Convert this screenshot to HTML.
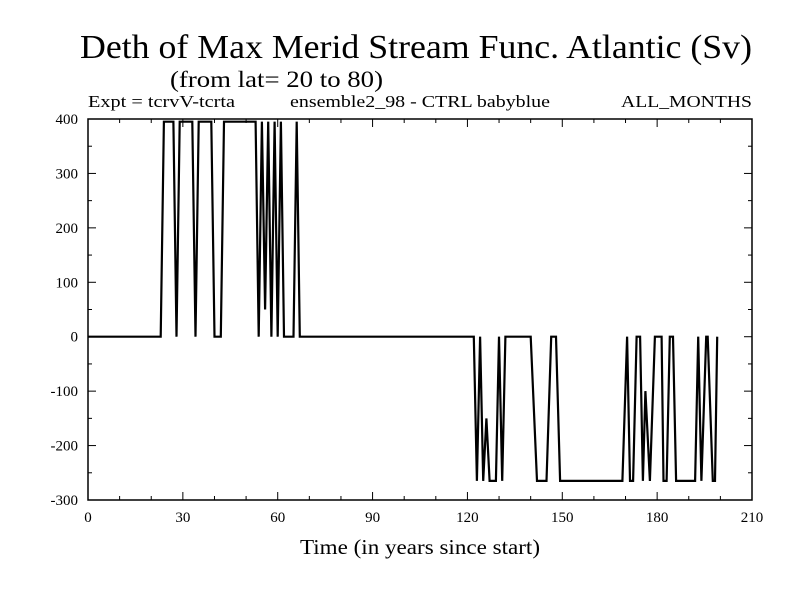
<!DOCTYPE html>
<html><head><meta charset="utf-8"><style>
body{margin:0;background:#fff}
svg text{font-family:"Liberation Serif",serif;fill:#000}
</style></head><body>
<svg width="800" height="600" xmlns="http://www.w3.org/2000/svg">
<rect width="800" height="600" fill="#fff"/>
<text x="80" y="58" font-size="34" textLength="672" lengthAdjust="spacingAndGlyphs">Deth of Max Merid Stream Func. Atlantic (Sv)</text>
<text x="170" y="87" font-size="23" textLength="213" lengthAdjust="spacingAndGlyphs">(from lat= 20 to 80)</text>
<text x="88" y="107" font-size="17" textLength="147" lengthAdjust="spacingAndGlyphs">Expt = tcrvV-tcrta</text>
<text x="290" y="107" font-size="17" textLength="260" lengthAdjust="spacingAndGlyphs">ensemble2_98 - CTRL babyblue</text>
<text x="621" y="107" font-size="17" textLength="131" lengthAdjust="spacingAndGlyphs">ALL_MONTHS</text>
<g id="axes"></g>
<g id="series"></g>
<text x="300" y="554" font-size="21" textLength="240" lengthAdjust="spacingAndGlyphs">Time (in years since start)</text>
</svg>
<script>
const years = [0,23,24,27,28,29,33,34,35,39,40,42,43,53,54,55,56,57,58,59,60,61,62,65,66,67,122,123,124,125,126,127,129,130,131,132,140,142,145,146.5,148,149.3,169,170.5,171.4,172.4,173.5,174.6,175.5,176.3,177.7,179.3,181.4,182,183,184,185,186,192,193,194,195.5,196,197.6,198.3,199];
const values = [0,0,395,395,0,395,395,0,395,395,0,0,395,395,0,395,50,395,0,395,0,395,0,0,395,0,0,-265,0,-265,-150,-265,-265,0,-265,0,0,-265,-265,0,0,-265,-265,0,-265,-265,0,0,-265,-100,-265,0,0,-265,-265,0,0,-265,-265,0,-265,0,0,-265,-265,0];
const xTicks = [0,30,60,90,120,150,180,210];
const yTicks = [400,300,200,100,0,-100,-200,-300];
const L=88,R=752,T=119,B=500;
const xs=v=>L+(v-0)/(210-0)*(R-L);
const ys=v=>B-(v+300)/700*(B-T);
const NS="http://www.w3.org/2000/svg";
const axes=document.getElementById('axes');
function mk(tag,attrs,parent){const e=document.createElementNS(NS,tag);for(const k in attrs)e.setAttribute(k,attrs[k]);parent.appendChild(e);return e;}
const frame=mk('rect',{x:L,y:T,width:R-L,height:B-T,fill:'none',stroke:'#000','stroke-width':1.5},axes);


for(let v=0;v<=210;v+=10){
  const len=(v%30===0)?8:4;
  const x=xs(v);
  const t1=mk('line',{x1:x,x2:x,y1:B,y2:B-len,stroke:'#000'},axes);
  
  
  const t2=mk('line',{x1:x,x2:x,y1:T,y2:T+len,stroke:'#000'},axes);
  
  
}
for(let v=-300;v<=400;v+=50){
  const len=(v%100===0)?8:4;
  const y=ys(v);
  const t1=mk('line',{x1:L,x2:L+len,y1:y,y2:y,stroke:'#000'},axes);
  
  
  const t2=mk('line',{x1:R,x2:R-len,y1:y,y2:y,stroke:'#000'},axes);
  
  
}
xTicks.forEach(v=>{
  const t=mk('text',{x:xs(v),y:B+22,'font-size':15,'text-anchor':'middle'},axes);
  t.textContent=v;
  
  
});
yTicks.forEach(v=>{
  const t=mk('text',{x:L-10,y:ys(v)+5,'font-size':15,'text-anchor':'end'},axes);
  t.textContent=v;
  
  
});
const pts=years.map((y,i)=>xs(y).toFixed(1)+','+ys(values[i]).toFixed(1)).join(' ');
const line=mk('polyline',{points:pts,fill:'none',stroke:'#000','stroke-width':2.2,'stroke-linejoin':'miter'},document.getElementById('series'));


</script>
</body></html>
